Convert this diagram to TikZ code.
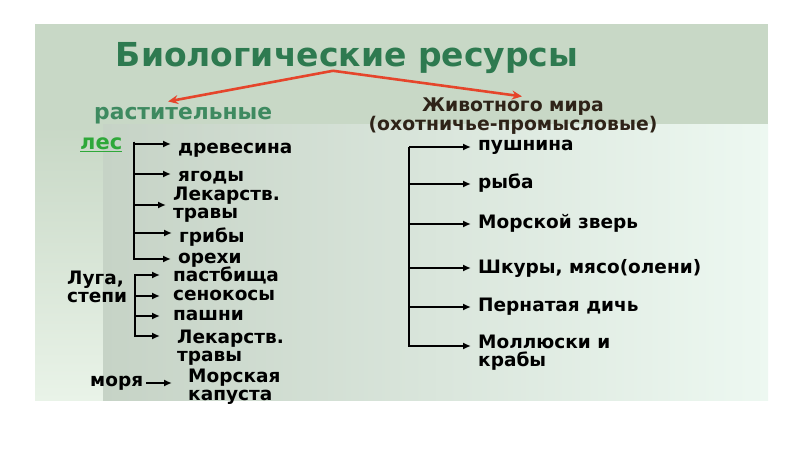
\documentclass[tikz,border=0pt]{standalone}
\usepackage{fontspec}
\setmainfont{DejaVu Sans}
\usetikzlibrary{arrows.meta,positioning}
\definecolor{slide}{HTML}{C8D8C6}
\definecolor{panel left}{HTML}{C6D3C6}
\definecolor{panel right}{HTML}{EDF8F1}
\definecolor{strip low}{HTML}{E9F3E8}
\definecolor{title green}{HTML}{2E7A50}
\definecolor{plant green}{HTML}{3E8A60}
\definecolor{les green}{HTML}{2FA83A}
\definecolor{arrow red}{HTML}{E5452B}
\definecolor{animal brown}{HTML}{2E2318}
\tikzset{
    title text/.style = {
        font=\fontsize{33}{34}\selectfont\bfseries,
        text=title green,
        inner sep=0pt,
        },
    group/.style = {
        font=\fontsize{18.5}{19}\selectfont\bfseries,
        anchor=west,
        align=left,
        inner sep=1pt,
        },
    leaf/.style = {
        font=\fontsize{18.5}{18}\selectfont\bfseries,
        anchor=west,
        align=left,
        inner sep=1pt,
        },
    branch/.style = {
        draw=black,
        line width=1.8pt,
        -{Latex[length=8pt,width=7pt]},
        shorten >=6pt,
        },
    red arrow/.style = {
        draw=arrow red,
        line width=2.6pt,
        -{Stealth[length=10pt,width=9pt]},
        },
}
\begin{document}
\begin{tikzpicture}[x=1pt,y=-1pt]
    \useasboundingbox (0,0) rectangle (800,449);
    % background of the slide
    \fill[white] (0,0) rectangle (800,449);
    \fill[slide] (35,24) rectangle (768,400);
    \shade[top color=slide, bottom color=strip low] (35,125) rectangle (103,400);
    \shade[left color=panel left, right color=panel right] (103,125) rectangle (768,400);

    \node[title text] (bio) at (347,58) {Биологические ресурсы};
    \node[group, font=\fontsize{21.8}{22}\selectfont\bfseries, text=plant green] (rast) at (93,116) {растительные};
    \node[font=\fontsize{18.8}{18}\selectfont\bfseries, text=animal brown, align=center, inner sep=0pt] (anim) at (513,116) {Животного мира\\(охотничье-промысловые)};

    \draw[red arrow] ([xshift=-14pt,yshift=3pt]bio.south) -- ([xshift=-15pt,yshift=5pt]rast.north);
    \draw[red arrow] ([xshift=-14pt,yshift=3pt]bio.south) -- ([xshift=9pt,yshift=1pt]anim.north);

    % forest
    \node[group, font=\fontsize{21}{22}\selectfont\bfseries, text=les green] (les) at (79,145) {\underline{лес}};
    \coordinate (les top) at (134,142);
    \node[leaf] (drev) at (177,150) {древесина};
    \node[leaf] (yag) at (177,178) {ягоды};
    \node[leaf] (lek) at (172,205) {Лекарств.\\травы};
    \node[leaf] (grib) at (178,237) {грибы};
    \node[leaf] (oreh) at (177,260) {орехи};
    \draw[branch] (les top) |- ([yshift=6pt]drev.west);
    \draw[branch] (les top) |- ([yshift=4pt]yag.west);
    \draw[branch] (les top) |- (lek.west);
    \draw[branch] (les top) |- ([yshift=4pt]grib.west);
    \draw[branch] (les top) |- ([yshift=1pt]oreh.west);

    % meadows
    \node[leaf] (luga) at (66,287) {Луга,\\степи};
    \coordinate (luga top) at (135,276);
    \node[leaf] (past) at (172,275) {пастбища};
    \node[leaf] (seno) at (172,295) {сенокосы};
    \node[leaf] (pash) at (172,315) {пашни};
    \node[leaf] (lek2) at (176,348) {Лекарств.\\травы};
    \draw[branch, shorten >=12pt] (luga top) |- (past.west);
    \draw[branch, shorten >=12pt] (luga top) |- ([yshift=-1pt]seno.west);
    \draw[branch, shorten >=12pt] (luga top) |- ([yshift=-1pt]pash.west);
    \draw[branch, shorten >=16pt] (luga top) |- ([yshift=12pt]lek2.west);

    % seas
    \node[leaf] (morya) at (89,383) {моря};
    \node[leaf] (kap) at (187,387) {Морская\\капуста};
    \draw[branch, shorten >=15pt, shorten <=2pt] (morya.east) -- (morya.east -| kap.west);

    % animals
    \coordinate (anim top) at (409,147);
    \node[leaf] (push) at (477,147) {пушнина};
    \node[leaf] (ryba) at (477,183) {рыба};
    \node[leaf] (zver) at (477,223) {Морской зверь};
    \node[leaf] (shk) at (477,268) {Шкуры, мясо(олени)};
    \node[leaf] (pern) at (477,307) {Пернатая дичь};
    \node[leaf] (moll) at (477,353) {Моллюски и\\крабы};
    \draw[branch] (anim top) |- (push.west);
    \draw[branch] (anim top) |- ([yshift=-1pt]ryba.west);
    \draw[branch] (anim top) |- ([yshift=-1pt]zver.west);
    \draw[branch] (anim top) |- (shk.west);
    \draw[branch] (anim top) |- (pern.west);
    \draw[branch] (anim top) |- ([yshift=7pt]moll.west);
\end{tikzpicture}
\end{document}
